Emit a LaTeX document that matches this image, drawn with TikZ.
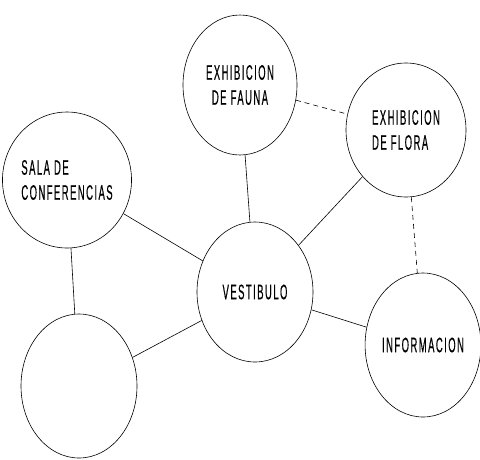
\documentclass[tikz,border=0pt]{standalone}
\usepackage{fontspec}
\setmainfont{Liberation Sans}[FakeStretch=0.45,LetterSpace=7,FakeBold=0.4]
\usepackage{tikz}
\usetikzlibrary{shapes.geometric,positioning}

\begin{document}
\begin{tikzpicture}[x=1pt,y=-1pt,
  font=\fontsize{21}{25}\selectfont,
  room/.style={draw,ellipse,line width=0.6pt,inner sep=0pt,align=center,minimum width=116pt,minimum height=140pt},
  link/.style={line width=0.6pt},
  weak/.style={link,dash pattern=on 5pt off 4pt},
]
\useasboundingbox (0,0) rectangle (480,459);

% rooms
\node[room,minimum width=114pt] (fauna) at (240,85) {EXHIBICION\\DE FAUNA};
\node[room,minimum width=120pt,minimum height=134pt,align=left] (flora) at (406,130) {EXHIBICION\\DE FLORA};
\node[room,minimum width=112pt,minimum height=136pt,align=left] (sala) at (67,180) {SALA DE\\CONFERENCIAS};
\node[room] (vest) at (255,292) {VESTIBULO};
\node[room,minimum width=114pt,minimum height=144pt] (info) at (423,345) {INFORMACION};
\node[room,minimum height=144pt] (blank) at (79,386) {};

% links
\draw[link] (sala) -- (blank);
\draw[link] (sala) -- (vest);
\draw[link] (fauna) -- (vest);
\draw[link] (flora) -- (vest);
\draw[link] (blank) -- (vest);
\draw[link] (vest) -- (info);
\draw[weak] (fauna) -- (flora);
\draw[weak] (flora) -- (info);
\end{tikzpicture}
\end{document}
